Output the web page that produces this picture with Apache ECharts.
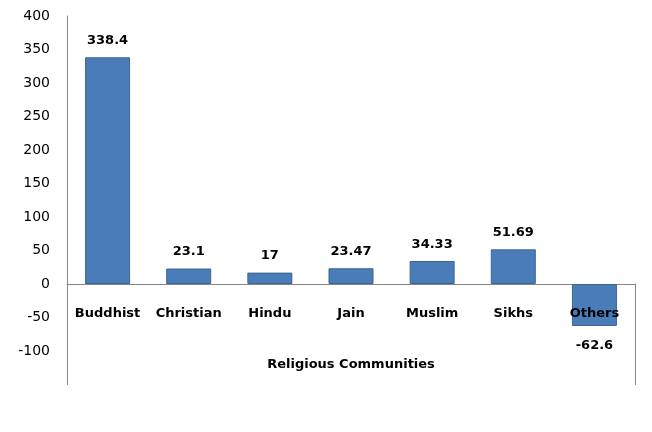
<html>
<head>
    <meta http-equiv="Content-Type" content="text/html; charset=utf-8"/>
    <title>Religious Communities</title>
    <style type="text/css">
        body, #chart {
            border: 0px;
            margin: 0px;
            padding: 0px;
            width: 652px;
            height: 432px;
            background: #ffffff;
        }
    </style>
    <script type="text/javascript" src="https://cdn.jsdelivr.net/npm/echarts@6/dist/echarts.min.js"></script>
    <script type="text/javascript">
        var categories = ['Buddhist', 'Christian', 'Hindu', 'Jain', 'Muslim', 'Sikhs', 'Others'];
        var values = [338.4, 23.1, 17, 23.47, 34.33, 51.69, -62.6];
        var yMin = -150, yMax = 400, yStep = 50;

        function init() {
            var myChart = echarts.init(document.getElementById('chart'));
            var font = 'DejaVu Sans';
            var option = {
                animation: false,
                grid: [
                    {left: 67, right: 17, top: 16, bottom: 47.5, outerBoundsMode: 'none', containLabel: false},
                    // lower band (below zero): category labels and the short right frame line
                    {left: 67, right: 17, top: 284, bottom: 47.5, outerBoundsMode: 'none', containLabel: false}
                ],
                xAxis: [
                    {
                        type: 'category',
                        data: categories,
                        gridIndex: 0,
                        name: 'Religious Communities',
                        nameLocation: 'middle',
                        nameGap: -26,
                        nameTextStyle: {fontFamily: font, fontWeight: 'bold', fontSize: 13, color: '#000'},
                        axisLine: {onZero: true, lineStyle: {color: '#868686', width: 1}},
                        axisTick: {show: false},
                        axisLabel: {show: false}
                    },
                    {
                        type: 'category',
                        gridIndex: 1,
                        data: categories,
                        position: 'top',
                        z: 5,
                        axisLine: {show: false},
                        axisTick: {show: false},
                        axisLabel: {inside: true, interval: 0, margin: 23, fontFamily: font, fontWeight: 'bold', fontSize: 13, color: '#000'}
                    }
                ],
                yAxis: [
                    {
                        type: 'value',
                        gridIndex: 0,
                        min: yMin,
                        max: yMax,
                        interval: yStep,
                        splitLine: {show: false},
                        axisTick: {show: false},
                        axisLine: {show: true, lineStyle: {color: '#868686', width: 1}},
                        axisLabel: {
                            margin: 17,
                            fontFamily: font,
                            fontSize: 14,
                            color: '#000',
                            formatter: function (v) { return v === yMin ? '' : v; }
                        }
                    },
                    {
                        type: 'value',
                        gridIndex: 1,
                        position: 'right',
                        min: yMin,
                        max: 0,
                        splitLine: {show: false},
                        axisTick: {show: false},
                        axisLabel: {show: false},
                        axisLine: {show: true, lineStyle: {color: '#868686', width: 1}}
                    }
                ],
                series: [
                    {
                        type: 'bar',
                        data: values,
                        barWidth: 45,
                        itemStyle: {color: '#4a7db8', borderColor: '#3a6594', borderWidth: 1},
                        label: {
                            show: true,
                            position: 'top',
                            distance: 10,
                            fontFamily: font,
                            fontWeight: 'bold',
                            fontSize: 13,
                            color: '#000'
                        }
                    }
                ]
            };
            option.series[0].data = values.map(function (v) {
                return v < 0 ? {value: v, label: {position: 'bottom', distance: 13}} : v;
            });
            myChart.setOption(option);
        }
    </script>
</head>
<body onLoad="init()">
<div id="chart"></div>
</body>
</html>
